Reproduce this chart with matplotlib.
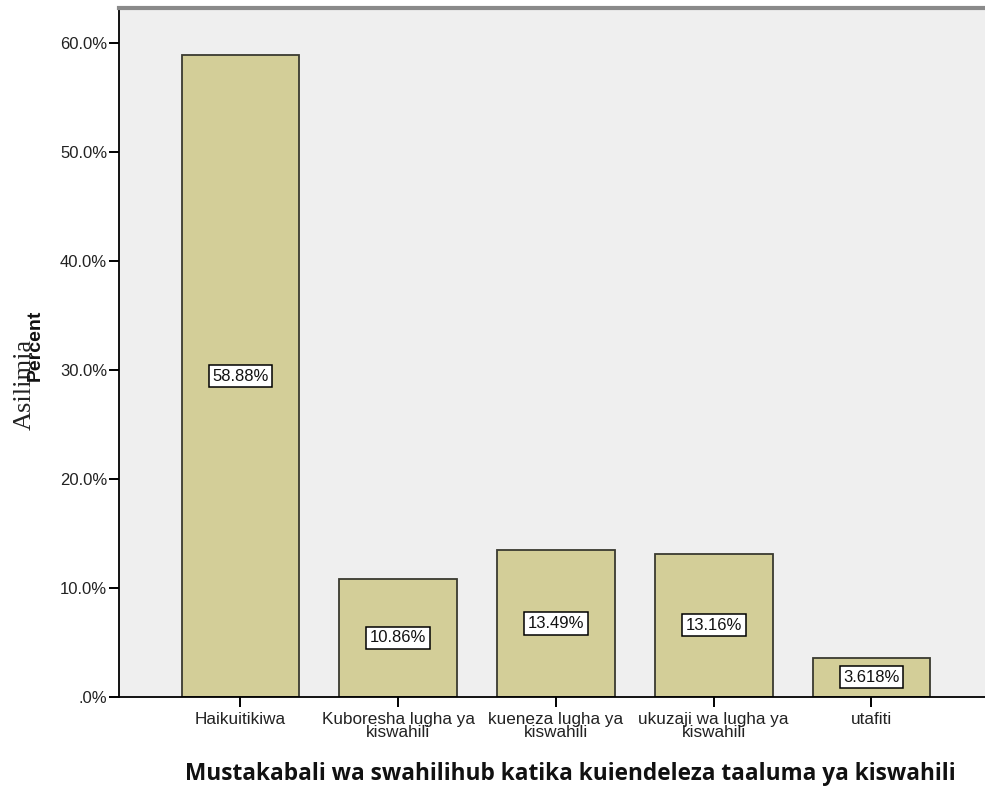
import matplotlib.pyplot as plt

# data
categories = ['Haikuitikiwa', 'Kuboresha lugha ya\nkiswahili', 'kueneza lugha ya\nkiswahili',
              'ukuzaji wa lugha ya\nkiswahili', 'utafiti']
percent = [58.88, 10.86, 13.49, 13.16, 3.618]
bar_labels = ['58.88%', '10.86%', '13.49%', '13.16%', '3.618%']
yticks = [0, 10, 20, 30, 40, 50, 60]
ytick_labels = ['.0%', '10.0%', '20.0%', '30.0%', '40.0%', '50.0%', '60.0%']

plt.rcParams['font.family'] = ['Liberation Sans', 'DejaVu Sans']

fig = plt.figure(figsize=(9.85, 7.89), dpi=100)
ax = fig.add_axes([0.1208, 0.1166, 0.8792, 0.8733])
ax.set_facecolor('#efefef')

x = list(range(len(categories)))
ax.bar(x, percent, width=0.747, color='#d3ce98', edgecolor='#3a3a30', linewidth=1.3, zorder=2)

for xi, v, lab in zip(x, percent, bar_labels):
    ax.text(xi, v / 2, lab, ha='center', va='center', fontsize=12, color='#111111', zorder=3,
            bbox=dict(boxstyle='square,pad=0.22', fc='white', ec='black', lw=1.1))

ax.set_xlim(-0.77, 4.72)
ax.set_ylim(0, 63.2)
ax.set_yticks(yticks)
ax.set_yticklabels(ytick_labels, fontsize=12, color='#222222')
ax.set_xticks(x)
ax.set_xticklabels(categories, fontsize=12.3, color='#222222', linespacing=0.8)
ax.tick_params(axis='y', length=7, width=1.4, pad=1.5)
ax.tick_params(axis='x', length=7, width=1.4, pad=4)

ax.spines['right'].set_visible(False)
ax.spines['top'].set_color('#8a8a8a')
ax.spines['top'].set_linewidth(3)
ax.spines['left'].set_linewidth(1.3)
ax.spines['bottom'].set_linewidth(1.3)

ax.set_xlabel('Mustakabali wa swahilihub katika kuiendeleza taaluma ya kiswahili',
              fontsize=16.3, fontweight='bold', family='Open Sans', va='center', color='#111111')
ax.xaxis.set_label_coords(0.521, -0.112)

# two overlapping y labels, as in the source image
fig.text(0.025, 0.513, 'Asilimia', rotation=90, ha='center', va='center',
         fontsize=19, family='Liberation Serif', color='#222222')
fig.text(0.036, 0.562, 'Percent', rotation=90, ha='center', va='center',
         fontsize=14, fontweight='bold', color='#111111')

fig.savefig('out.png', dpi=100)
